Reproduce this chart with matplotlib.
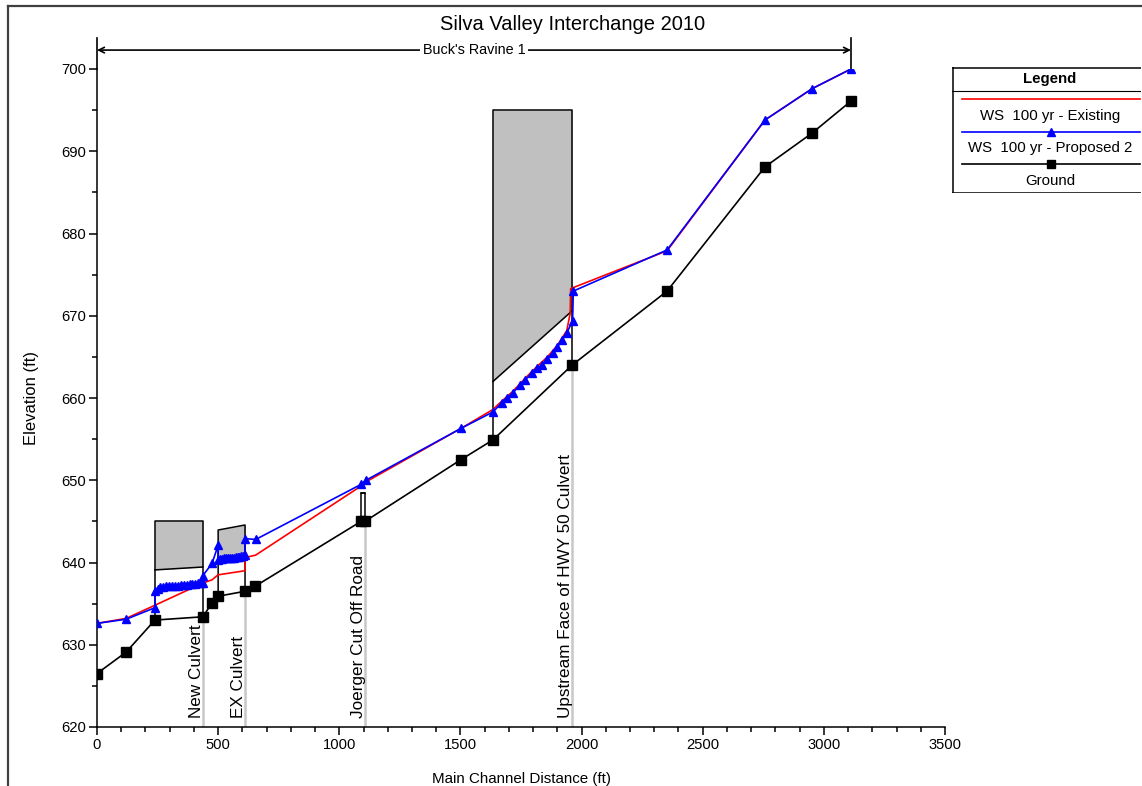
import matplotlib
matplotlib.use("Agg")
import matplotlib.pyplot as plt
from matplotlib.lines import Line2D
from matplotlib.ticker import MultipleLocator

plt.rcParams['font.family'] = ['Liberation Sans', 'DejaVu Sans']

# ground profile (main channel distance ft, elevation ft)
ground_x = [0, 120, 239, 437, 475, 500, 611, 652, 1090, 1106, 1502, 1634, 1961, 2353, 2757, 2951, 3112]
ground_y = [626.5, 629.1, 633.0, 633.4, 635.1, 635.9, 636.5, 637.1, 645.0, 645.0, 652.5, 654.9, 664.0, 673.0, 688.1, 692.2, 696.1]

# WS 100 yr - Existing
exist_x = [0, 120, 239, 437, 475, 500, 611, 611, 655, 1090, 1110, 1502, 1634, 1670, 1716, 1767, 1815,
           1859, 1900, 1939, 1953, 1955, 2353, 2757, 2951, 3112]
exist_y = [632.6, 633.2, 634.8, 637.5, 637.9, 638.5, 639.0, 640.6, 640.9, 649.3, 649.8, 656.3, 658.6, 659.6,
           660.8, 662.4, 663.8, 665.0, 666.4, 668.2, 670.3, 673.3, 677.9, 693.8, 697.6, 700.0]

# WS 100 yr - Proposed 2
prop_x = [0, 120, 239, 239, 250, 262, 274, 286, 298, 310, 322, 334, 346, 358, 370, 382, 394, 406, 418, 430,
          437, 437, 475, 500, 500, 508, 516, 524, 532, 540, 548, 556, 564, 572, 580, 588, 596, 604, 611, 611,
          655, 1090, 1110, 1502, 1634, 1670, 1691, 1716, 1746, 1767, 1794, 1815, 1836, 1859, 1881, 1900,
          1918, 1939, 1963, 1966, 2353, 2757, 2951, 3112]
prop_y = [632.6, 633.1, 634.5, 636.5, 636.8, 637.0, 637.0, 637.1, 637.1, 637.2, 637.2, 637.2, 637.3, 637.3,
          637.3, 637.4, 637.4, 637.4, 637.5, 637.5, 637.5, 638.4, 639.9, 642.1, 640.3, 640.4, 640.4, 640.5,
          640.5, 640.5, 640.6, 640.6, 640.6, 640.7, 640.7, 640.7, 640.8, 640.8, 640.9, 642.9, 642.8, 649.5,
          650.0, 656.3, 658.3, 659.4, 660.0, 660.6, 661.6, 662.2, 663.0, 663.6, 664.0, 664.8, 665.5, 666.2,
          667.0, 667.9, 669.4, 673.0, 678.0, 693.8, 697.6, 700.0]

# structures: upstream/downstream station, ground, low chord, high chord
struct_x = [(239, 437), (500, 611), (1088, 1107), (1634, 1961)]
struct_ground = [(633.0, 633.4), (635.9, 636.5), (645.0, 645.0), (654.9, 664.0)]
struct_low = [(639.1, 639.45), (640.6, 640.9), (648.4, 648.4), (662.0, 670.6)]
struct_high = [(645.05, 645.05), (643.95, 644.56), (648.4, 648.4), (695.0, 695.0)]

# labelled cross sections
label_x = [437, 611, 1106, 1961]
label_ground = [633.4, 636.5, 645.0, 664.0]
label_text = ['New Culvert', 'EX Culvert', 'Joerger Cut Off Road', 'Upstream Face of HWY 50 Culvert']

reach_start, reach_end = 0, 3112

W, H = 1142, 786
fig = plt.figure(figsize=(W / 100, H / 100), dpi=100)
ax = fig.add_axes([97 / W, 1 - 727 / H, 848 / W, (727 - 69) / H])
ax.set_xlim(0, 3500)
ax.set_ylim(620, 700)

for xs, gs, lows, highs in zip(struct_x, struct_ground, struct_low, struct_high):
    ax.fill_between(xs, lows, highs, color='#c0c0c0', lw=0, zorder=1)
    ax.plot([xs[0], xs[0], xs[1], xs[1]], [gs[0], highs[0], highs[1], gs[1]], color='black', lw=1.1, zorder=2)
    ax.plot(xs, lows, color='black', lw=1.1, zorder=2)

for x, g, t in zip(label_x, label_ground, label_text):
    ax.plot([x, x], [620, g], color='#c8c8c8', lw=1.8, zorder=1)
    ax.text(x - 7, 621.1, t, rotation=90, rotation_mode='anchor', ha='left', va='baseline',
            fontsize=12.3, zorder=3)

ax.plot(ground_x, ground_y, color='black', lw=1.2, marker='s', ms=6.5, zorder=4)
ax.plot(exist_x, exist_y, color='#ff0000', lw=1.2, zorder=5)
ax.plot(prop_x, prop_y, color='#0000ff', lw=1.2, marker='^', ms=6, zorder=6)

# reach bracket above the plot
for x in (reach_start, reach_end):
    ax.plot([x, x], [700, 703.8], color='black', lw=1.2, clip_on=False)
ax.annotate('', xy=(reach_start, 702.3), xytext=(reach_end, 702.3), annotation_clip=False,
            arrowprops=dict(arrowstyle='<->', color='black', lw=1.2, shrinkA=0, shrinkB=0,
                            mutation_scale=10))
ax.text((reach_start + reach_end) / 2, 702.3, "Buck's Ravine 1", ha='center', va='center',
        fontsize=10.4, bbox=dict(facecolor='white', edgecolor='none', pad=2), clip_on=False)

ax.spines['top'].set_visible(False)
ax.spines['right'].set_visible(False)
for s in ('left', 'bottom'):
    ax.spines[s].set_linewidth(1.1)
ax.xaxis.set_major_locator(MultipleLocator(500))
ax.xaxis.set_minor_locator(MultipleLocator(100))
ax.yaxis.set_major_locator(MultipleLocator(10))
ax.yaxis.set_minor_locator(MultipleLocator(5))
ax.tick_params(which='major', direction='out', length=6, width=1.1, labelsize=10.6, pad=2)
ax.tick_params(which='minor', direction='out', length=3.5, width=1.1)

ax.set_xlabel('Main Channel Distance (ft)', fontsize=10.9, labelpad=14)
ax.set_ylabel('Elevation (ft)', fontsize=12, labelpad=16)
fig.text(573 / W, 1 - 24 / H, 'Silva Valley Interchange 2010', ha='center', va='center', fontsize=14.5)

# outer frame (top and left edges)
fig.add_artist(Line2D([8 / W, 8 / W], [0, 1 - 5.5 / H], color='#404040', lw=1.6))
fig.add_artist(Line2D([8 / W, 1], [1 - 5.5 / H, 1 - 5.5 / H], color='#404040', lw=1.6))

# legend box
lg = fig.add_axes([952 / W, 1 - 193 / H, 189 / W, 126 / H])
lg.set_xlim(0, 189)
lg.set_ylim(126, 0)
lg.axis('off')
lg.plot([0, 189], [0.5, 0.5], color='black', lw=1.1)
lg.plot([0.5, 0.5], [0, 126], color='black', lw=1.1)
lg.plot([0, 189], [125.5, 125.5], color='black', lw=1.1)
lg.plot([0, 189], [23.7, 23.7], color='black', lw=0.8)
lg.text(98, 11.5, 'Legend', ha='center', va='center', fontsize=10.8, fontweight='bold')
entries = [('WS  100 yr - Existing', '#ff0000', None),
           ('WS  100 yr - Proposed 2', '#0000ff', '^'),
           ('Ground', 'black', 's')]
for i, (name, col, mk) in enumerate(entries):
    yl = 32.3 + i * 32.4
    lg.plot([9.7, 188], [yl, yl], color=col, lw=1.2)
    if mk:
        lg.plot([99], [yl], color=col, marker=mk, ms=5.5 if mk == '^' else 6)
    lg.text(98, yl + 16.5, name, ha='center', va='center', fontsize=10.8)

fig.savefig('out.png', dpi=100)
